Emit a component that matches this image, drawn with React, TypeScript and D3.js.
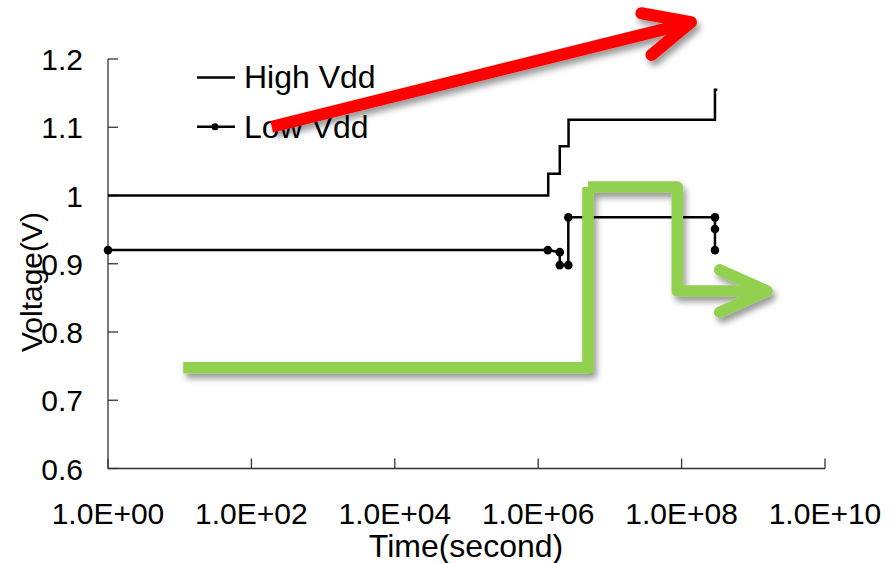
import React from "react";
import * as d3 from "d3";

// ---- data ----
const timeTicks = [1, 1e2, 1e4, 1e6, 1e8, 1e10];
const timeTickLabels = ["1.0E+00", "1.0E+02", "1.0E+04", "1.0E+06", "1.0E+08", "1.0E+10"];
const voltTicks = [0.6, 0.7, 0.8, 0.9, 1.0, 1.1, 1.2];
const voltTickLabels = ["0.6", "0.7", "0.8", "0.9", "1", "1.1", "1.2"];

const highTime = [1, 1.38e6, 1.38e6, 2.0e6, 2.0e6, 2.65e6, 2.65e6, 2.92e8, 2.92e8, 3.15e8];
const highVolt = [1.0, 1.0, 1.032, 1.032, 1.072, 1.072, 1.111, 1.111, 1.155, 1.155];

const lowTime = [1, 1.36e6, 2.0e6, 2.0e6, 2.63e6, 2.63e6, 2.92e8, 2.92e8, 2.92e8];
const lowVolt = [0.92, 0.92, 0.917, 0.898, 0.898, 0.968, 0.968, 0.951, 0.92];

const seriesNames = ["High Vdd", "Low Vdd"];

// annotation arrows, in data coordinates (time, voltage)
const redArrowTime = [1.92e2, 1.3e8];
const redArrowVolt = [1.1008, 1.253];
const redHeadTime = [2.75e7, 1.35e8, 3.8e7];
const redHeadVolt = [1.267, 1.254, 1.206];

const greenBaseTime = [11.2, 5.0e6];
const greenBaseVolt = [0.7475, 0.7475];
const greenRiseTime = [4.95e6, 4.95e6];
const greenRiseVolt = [0.74, 1.0125];
const greenTopTime = [4.95e6, 8.7e7, 8.7e7, 1.5e9];
const greenTopVolt = [1.0125, 1.0125, 0.86, 0.86];
const greenHeadTime = [3.4e8, 1.55e9, 3.4e8];
const greenHeadVolt = [0.891, 0.86, 0.829];

const W = 894;
const H = 563;

export default function App() {
  const x = d3.scaleLog().domain([1, 1e10]).range([108, 825]);
  const y = d3.scaleLinear().domain([0.6, 1.2]).range([468.5, 59]);

  const toPts = (ts: number[], vs: number[]) => ts.map((t, i) => [x(t), y(vs[i])] as [number, number]);
  const line = d3.line<[number, number]>();

  const highPts = toPts(highTime, highVolt);
  const lowPts = toPts(lowTime, lowVolt);

  const font = "'Liberation Sans', Arial, sans-serif";
  const axisColor = "#333";

  return (
    <svg
      width={W}
      height={H}
      style={{ position: "fixed", left: 0, top: 0, background: "#fff" }}
      fontFamily={font}
    >
      <defs>
        <filter id="shadow" x="-20%" y="-50%" width="140%" height="200%">
          <feDropShadow dx="3" dy="5" stdDeviation="3" floodColor="#000" floodOpacity="0.4" />
        </filter>
      </defs>

      {/* axes */}
      <line x1={x(1)} x2={x(1)} y1={y(1.2)} y2={y(0.6)} stroke={axisColor} strokeWidth={1.3} />
      <line x1={x(1)} x2={x(1e10)} y1={y(0.6)} y2={y(0.6)} stroke={axisColor} strokeWidth={1.3} />
      {voltTicks.map((v, i) => (
        <g key={"yt" + i}>
          <line x1={x(1)} x2={x(1) + 10} y1={y(v)} y2={y(v)} stroke={axisColor} strokeWidth={1.3} />
          <text x={83} y={y(v) + 11} textAnchor="end" fontSize={30} fill="#000">
            {voltTickLabels[i]}
          </text>
        </g>
      ))}
      {timeTicks.map((t, i) => (
        <g key={"xt" + i}>
          <line x1={x(t)} x2={x(t)} y1={y(0.6)} y2={y(0.6) - 10} stroke={axisColor} strokeWidth={1.3} />
          <text x={x(t)} y={524} textAnchor="middle" fontSize={30} fill="#000">
            {timeTickLabels[i]}
          </text>
        </g>
      ))}
      <text x={466} y={557} textAnchor="middle" fontSize={32} fill="#000">
        Time(second)
      </text>
      <text
        transform={`translate(42,282) rotate(-90)`}
        textAnchor="middle"
        fontSize={30}
        fill="#000"
      >
        Voltage(V)
      </text>

      {/* series */}
      <path d={line(highPts) || ""} fill="none" stroke="#000" strokeWidth={2.5} />
      <path d={line(lowPts) || ""} fill="none" stroke="#000" strokeWidth={2.5} />
      {lowPts.map((p, i) => (
        <circle key={"m" + i} cx={p[0]} cy={p[1]} r={4.3} fill="#000" />
      ))}

      {/* legend */}
      <line x1={197} x2={235} y1={77.5} y2={77.5} stroke="#000" strokeWidth={2.5} />
      <text x={244} y={88} fontSize={32} fill="#000">
        {seriesNames[0]}
      </text>
      <line x1={197} x2={235} y1={126.7} y2={126.7} stroke="#000" strokeWidth={2.5} />
      <circle cx={215} cy={126.7} r={3.5} fill="#000" />
      <text x={244} y={138} fontSize={32} fill="#000">
        {seriesNames[1]}
      </text>

      {/* red arrow */}
      <g filter="url(#shadow)" stroke="#ff0000" fill="none" strokeLinecap="round" strokeLinejoin="round" strokeWidth={12}>
        <path d={line(toPts(redArrowTime, redArrowVolt)) || ""} strokeLinecap="butt" />
        <path d={line(toPts(redHeadTime, redHeadVolt)) || ""} />
      </g>

      {/* green arrow */}
      <g filter="url(#shadow)" stroke="#92d050" fill="none" strokeWidth={11.5}>
        <path d={line(toPts(greenBaseTime, greenBaseVolt)) || ""} strokeLinecap="butt" />
        <path d={line(toPts(greenRiseTime, greenRiseVolt)) || ""} strokeLinecap="butt" />
        <path d={line(toPts(greenTopTime, greenTopVolt)) || ""} strokeLinecap="butt" strokeLinejoin="round" />
        <path d={line(toPts(greenHeadTime, greenHeadVolt)) || ""} strokeLinecap="round" strokeLinejoin="round" />
      </g>
    </svg>
  );
}
